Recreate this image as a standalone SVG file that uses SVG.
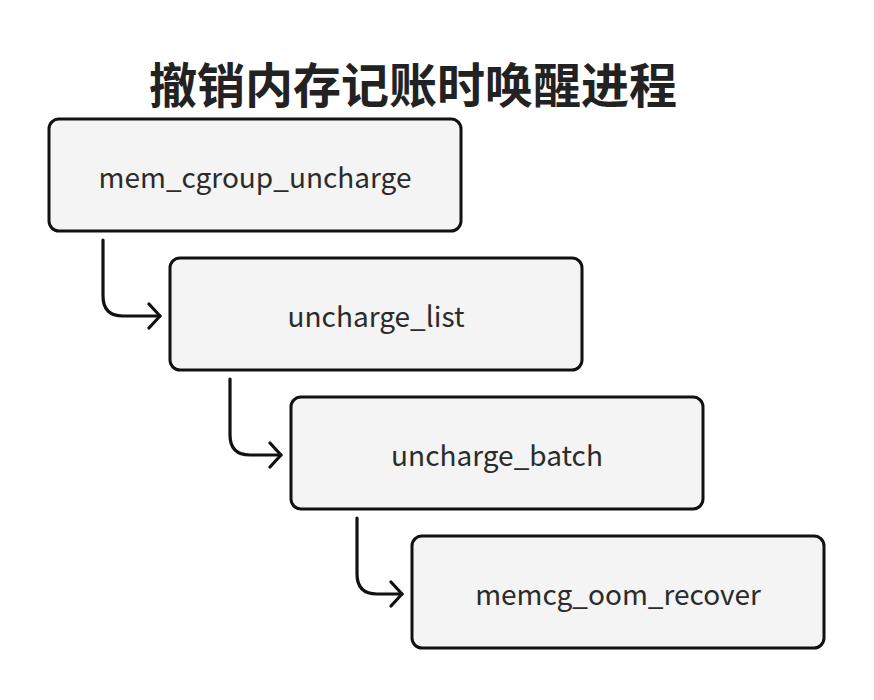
<svg xmlns="http://www.w3.org/2000/svg" width="874" height="700" viewBox="0 0 874 700">
<style>
.box{fill:#f4f4f4;stroke:#111;stroke-width:3}
.lbl{font-family:"Noto Sans CJK SC","Noto Sans",sans-serif;font-size:28px;fill:#2b2b2b;text-anchor:middle;dominant-baseline:central}
.title{font-family:"Noto Sans CJK SC",sans-serif;font-size:48px;font-weight:bold;fill:#222;text-anchor:middle}
.conn{fill:none;stroke:#111;stroke-width:3.2;stroke-linecap:round;stroke-linejoin:round}
</style>
<defs>
<marker id="arr" markerWidth="16" markerHeight="28" refX="13" refY="14" orient="auto" markerUnits="userSpaceOnUse">
<path d="M2,2 L13,14 L2,26" fill="none" stroke="#111" stroke-width="3.2" stroke-linecap="round" stroke-linejoin="round"/>
</marker>
</defs>
<rect width="874" height="700" fill="#fff"/>
<text class="title" x="413" y="103">撤销内存记账时唤醒进程</text>
<g id="connectors">
<path class="conn" d="M103,240 V296 Q103,316 123,316 H160" marker-end="url(#arr)"/>
<path class="conn" d="M230,379 V435 Q230,455 250,455 H281" marker-end="url(#arr)"/>
<path class="conn" d="M357,518 V574 Q357,594 377,594 H402" marker-end="url(#arr)"/>
</g>
<g id="mem_cgroup_uncharge">
<rect class="box" x="49" y="119" width="412" height="112" rx="10"/>
<text class="lbl" x="255" y="176">mem_cgroup_uncharge</text>
</g>
<g id="uncharge_list">
<rect class="box" x="170" y="258" width="412" height="112" rx="10"/>
<text class="lbl" x="376" y="315">uncharge_list</text>
</g>
<g id="uncharge_batch">
<rect class="box" x="291" y="397" width="412" height="112" rx="10"/>
<text class="lbl" x="497" y="454">uncharge_batch</text>
</g>
<g id="memcg_oom_recover">
<rect class="box" x="412" y="536" width="412" height="112" rx="10"/>
<text class="lbl" x="618" y="593">memcg_oom_recover</text>
</g>
</svg>
